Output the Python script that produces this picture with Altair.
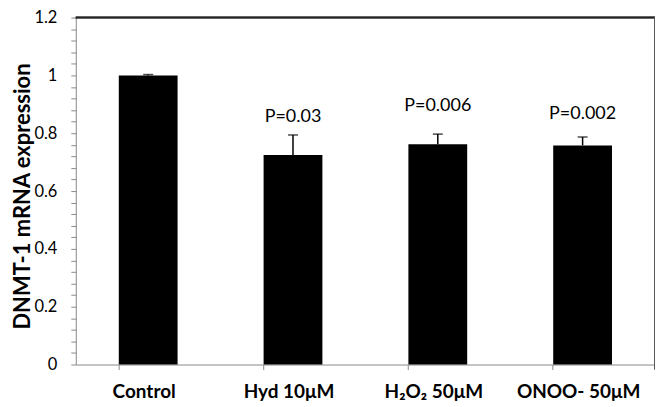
import altair as alt
import pandas as pd

categories = ["Control", "Hyd 10μM", "H₂O₂ 50μM", "ONOO- 50μM"]
means = [1.0, 0.725, 0.762, 0.758]
errors = [0.003, 0.069, 0.035, 0.029]
p_labels = ["", "P=0.03", "P=0.006", "P=0.002"]
p_label_pos = [0.0, 0.855, 0.894, 0.866]

df = pd.DataFrame({
    "cat": categories,
    "mean": means,
    "upper": [m + e for m, e in zip(means, errors)],
    "p": p_labels,
    "py": p_label_pos,
})

W, H = 581, 348
FONT = "Lato"
AXIS_GRAY = "#8a8a8a"
y_tick_values = [round(i * 0.04, 2) for i in range(31)]

xscale = alt.Scale(domain=categories, paddingInner=0.594, paddingOuter=0.297)
yscale = alt.Scale(domain=[0, 1.2], nice=False, zero=True)

x_labels = alt.X(
    "cat:N", sort=categories, scale=xscale,
    axis=alt.Axis(
        title=None, labelAngle=0, ticks=False, domain=False,
        labelFont=FONT, labelFontWeight="bold", labelFontSize=19,
        labelColor="black", labelBaseline="alphabetic", labelPadding=33,
        labelOffset=-4, orient="bottom",
    ),
)
x_ticks = alt.X(
    "cat:N", sort=categories, scale=xscale,
    axis=alt.Axis(
        title=None, labels=False, ticks=True, bandPosition=0,
        tickSize=5, tickColor=AXIS_GRAY, domainColor=AXIS_GRAY,
        domainWidth=1, tickWidth=1, orient="bottom",
    ),
)
x_plain = alt.X("cat:N", sort=categories, scale=xscale, axis=None)

y_axis = alt.Axis(
    values=y_tick_values,
    labelExpr="(round(datum.value * 100) % 20 == 0) ? format(datum.value, '~g') : ''",
    labelOverlap=False, labelFlush=False,
    labelFont=FONT, labelFontSize=16.5, labelColor="black", labelPadding=14,
    tickSize=5, tickColor=AXIS_GRAY, domainColor=AXIS_GRAY, grid=False,
    title="DNMT-1 mRNA expression", titleFont=FONT, titleFontSize=22,
    titleFontWeight="bold", titleColor="black", titleAngle=270,
    titleAlign="center", titleBaseline="alphabetic", titleX=-46, titleY=179,
)

base = alt.Chart(df)

bars = base.mark_bar(color="black").encode(
    x=x_labels,
    y=alt.Y("mean:Q", scale=yscale, axis=y_axis),
)

err = base.mark_rule(color="black", strokeWidth=1.5).encode(
    x=x_ticks,
    y=alt.Y("mean:Q", scale=yscale, axis=None),
    y2="upper:Q",
)

caps = base.mark_tick(color="black", size=10, thickness=1.5, orient="horizontal").encode(
    x=x_plain,
    y=alt.Y("upper:Q", scale=yscale, axis=None),
)

ptext = base.transform_filter("datum.p != ''").mark_text(
    font=FONT, fontSize=18, color="black", baseline="middle", align="center"
).encode(
    x=x_plain,
    y=alt.Y("py:Q", scale=yscale, axis=None),
    text="p:N",
)

top_border = alt.Chart(df).mark_rule(color="#222222", strokeWidth=1.5).encode(
    x=alt.value(0), x2=alt.value(W), y=alt.value(0)
)
right_border = alt.Chart(df).mark_rule(color="#555555", strokeWidth=1.2).encode(
    x=alt.value(W), y=alt.value(0), y2=alt.value(H + 5)
)

chart = alt.layer(bars, err, caps, ptext, top_border, right_border).resolve_axis(
    x="independent", y="independent"
).properties(
    width=W, height=H,
    autosize=alt.AutoSizeParams(type="none"),
    padding={"left": 68, "top": 9, "right": 0, "bottom": 45},
).configure_view(stroke=None)

chart.save("out.html", embed_options={"renderer": "svg", "actions": False})
